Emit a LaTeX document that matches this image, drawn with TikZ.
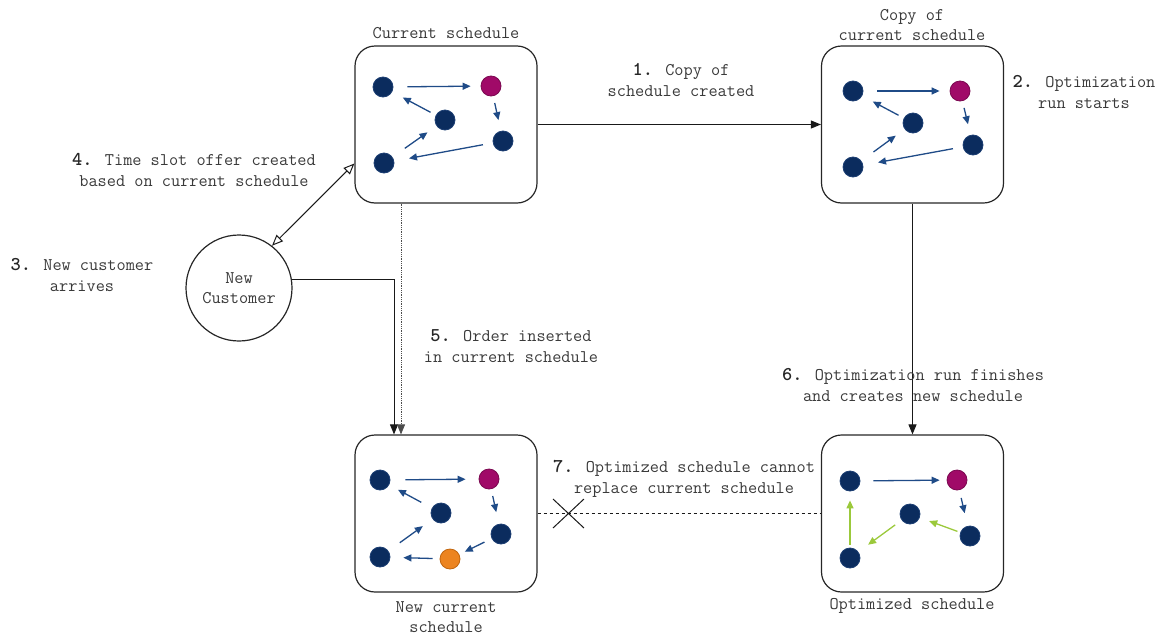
\documentclass[tikz,border=0pt]{standalone}
\usepackage{fontspec}
\usetikzlibrary{arrows.meta,shapes.misc}
\definecolor{navy}{HTML}{0B2C5E}
\definecolor{navyb}{HTML}{1B3D72}
\definecolor{mag}{HTML}{A00A68}
\definecolor{magb}{HTML}{7A0850}
\definecolor{orng}{HTML}{EC8420}
\definecolor{orngb}{HTML}{C0650E}
\definecolor{ablue}{HTML}{1F4B87}
\definecolor{agreen}{HTML}{9BC93B}
\definecolor{txt}{HTML}{3A3A3A}
\newcommand\stepnum[1]{{\fontsize{19.5}{20}\selectfont\bfseries\color{black!85}#1}}
\tikzset{
 box/.style={draw=black!85, line width=1.2pt, rounded corners=20pt, minimum width=182pt, minimum height=157pt, inner sep=0pt},
 dotn/.style={circle, minimum size=20pt, inner sep=0pt, fill=navy, draw=navyb, line width=0.8pt},
 magn/.style={dotn, fill=mag, draw=magb},
 orn/.style={dotn, fill=orng, draw=orngb},
 sa/.style={draw=ablue, line width=1.3pt, -{Triangle[length=8pt,width=7pt]}},
 ga/.style={sa, draw=agreen},
 conn/.style={draw=black!90, line width=1pt, -{Triangle[length=10pt,width=8pt]}},
 lbl/.style={font=\fontsize{17.8}{20.5}\selectfont\ttfamily, align=center, text=txt, inner sep=0pt},
}
\begin{document}
\begin{tikzpicture}[x=1pt,y=-1pt]
\useasboundingbox (0,0) rectangle (1165,635);

% boxes
\node[box] (cur) at (446,124.5) {};
\node[box] (copy) at (912.5,124.5) {};
\node[box] (newc) at (446,513.5) {};
\node[box] (opt) at (912.5,513.5) {};
\node[circle, draw=black!85, line width=1.2pt, minimum size=106pt, inner sep=0pt, lbl] (cust) at (239,288) {New\\Customer};

% current schedule icon
\node[dotn] (a1) at (383,87) {};
\node[magn] (a2) at (491,86) {};
\node[dotn] (a3) at (445,120) {};
\node[dotn] (a4) at (503,141) {};
\node[dotn] (a5) at (384,163) {};
\draw[sa, shorten <=14pt, shorten >=10pt] (a1) -- (a2);
\draw[sa, shorten <=7pt, shorten >=11pt] (a2) -- (a4);
\draw[sa, shorten <=6pt, shorten >=12pt] (a3) -- (a1);
\draw[sa, shorten <=15pt, shorten >=11pt] (a5) -- (a3);
\draw[sa, shorten <=10pt, shorten >=15pt] (a4) -- (a5);

% copy icon
\node[dotn] (b1) at (853,91) {};
\node[magn] (b2) at (960,91) {};
\node[dotn] (b3) at (913,123) {};
\node[dotn] (b4) at (973,145) {};
\node[dotn] (b5) at (853,167) {};
\draw[sa, shorten <=14pt, shorten >=10pt] (b1) -- (b2);
\draw[sa, shorten <=7pt, shorten >=11pt] (b2) -- (b4);
\draw[sa, shorten <=6pt, shorten >=12pt] (b3) -- (b1);
\draw[sa, shorten <=15pt, shorten >=11pt] (b5) -- (b3);
\draw[sa, shorten <=10pt, shorten >=15pt] (b4) -- (b5);

% new current icon
\node[dotn] (c1) at (380,480) {};
\node[magn] (c2) at (489,479) {};
\node[dotn] (c3) at (441,513) {};
\node[dotn] (c4) at (501,534) {};
\node[dotn] (c5) at (380,557) {};
\node[orn] (c6) at (450,559) {};
\draw[sa, shorten <=15pt, shorten >=13pt] (c1) -- (c2);
\draw[sa, shorten <=7pt, shorten >=12pt] (c2) -- (c4);
\draw[sa, shorten <=12pt, shorten >=10pt] (c3) -- (c1);
\draw[sa, shorten <=14pt, shorten >=12pt] (c5) -- (c3);
\draw[sa, shorten <=8pt, shorten >=6pt] (c4) -- (c6);
\draw[sa, shorten <=7pt, shorten >=13pt] (c6) -- (c5);

% optimized icon
\node[dotn] (d1) at (850,481) {};
\node[magn] (d2) at (957,480) {};
\node[dotn] (d3) at (910,514) {};
\node[dotn] (d4) at (970,536) {};
\node[dotn] (d5) at (850,558) {};
\draw[sa, shorten <=13pt, shorten >=7pt] (d1) -- (d2);
\draw[sa, shorten <=8pt, shorten >=13pt] (d2) -- (d4);
\draw[ga, shorten <=3pt, shorten >=10pt] (d4) -- (d3);
\draw[ga, shorten <=8pt, shorten >=12pt] (d3) -- (d5);
\draw[ga, shorten <=3pt, shorten >=9pt] (d5) -- (d1);

% connectors
\draw[conn] (cur) -- (copy);
\draw[conn] (copy) -- (opt);
\draw[draw=black!90, line width=1pt, {Triangle[open,length=11pt,width=9pt]}-{Triangle[open,length=11pt,width=9pt]}] (cust.52) -- ([yshift=-39pt]cur.west);
\draw[conn] (cust.9) -| ([xshift=-52pt]newc.north);
\draw[draw=black!70, line width=0.8pt, densely dotted, -{Triangle[length=10pt,width=8pt]}] ([xshift=-45pt]cur.south) -- ([xshift=-45pt]newc.north);
\draw[draw=black!90, line width=1pt, dashed] (newc) -- node[pos=0.109, cross out, solid, draw=black!90, line width=1pt, minimum width=30pt, minimum height=28pt, inner sep=0pt] (xm) {} (opt);

% labels
\node[lbl] (l0) at (446,33) {Current schedule};
\node[lbl] (l0b) at (912,25) {Copy of\\current schedule};
\node[lbl] (l1) at (681,80) {\stepnum{1.} Copy of\\schedule created};
\node[lbl] (l2) at (1084,92) {\stepnum{2.} Optimization\\run starts};
\node[lbl] (l4) at (194,170) {\stepnum{4.} Time slot offer created\\based on current schedule};
\node[lbl] (l3) at (82,275) {\stepnum{3.} New customer\\arrives};
\node[lbl] (l5) at (511,346) {\stepnum{5.} Order inserted\\in current schedule};
\node[lbl] (l6) at (913,385) {\stepnum{6.} Optimization run finishes\\and creates new schedule};
\node[lbl] (l7) at (684,479) {\stepnum{7.} Optimized schedule cannot\\replace current schedule};
\node[lbl] (l8) at (446,617) {New current\\schedule};
\node[lbl] (l9) at (912,606) {Optimized schedule};
\end{tikzpicture}
\end{document}
